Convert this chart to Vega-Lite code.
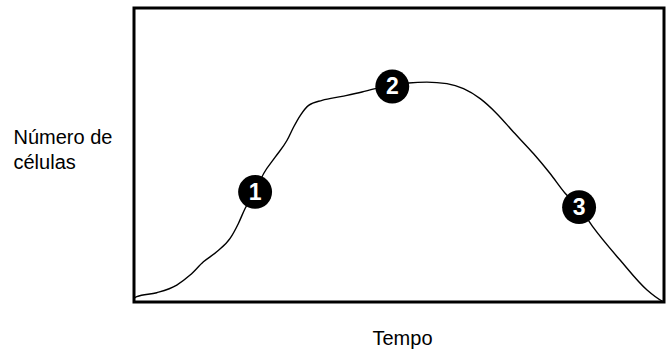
{
  "$schema": "https://vega.github.io/schema/vega-lite/v6.json",
  "width": 530,
  "height": 294,
  "autosize": "none",
  "padding": {"left": 134, "top": 8, "right": 6, "bottom": 50},
  "background": "white",
  "config": {
    "view": {"stroke": "black", "strokeWidth": 3},
    "font": "Liberation Sans"
  },
  "datasets": {
    "curve": [
      {"t": 0, "n": 1.2},
      {"t": 0.53, "n": 1.8},
      {"t": 4.3, "n": 3.16},
      {"t": 8.07, "n": 5.77},
      {"t": 10.59, "n": 9.17},
      {"t": 13.1, "n": 13.68},
      {"t": 15.61, "n": 17.08},
      {"t": 18.13, "n": 21.63},
      {"t": 19.7, "n": 26.72},
      {"t": 20.96, "n": 31.82},
      {"t": 22.85, "n": 37.45},
      {"t": 24.47, "n": 43.7},
      {"t": 26.67, "n": 49.34},
      {"t": 28.88, "n": 55.01},
      {"t": 30.12, "n": 59.52},
      {"t": 31.39, "n": 63.5},
      {"t": 32.95, "n": 66.89},
      {"t": 35.48, "n": 68.59},
      {"t": 39.25, "n": 69.95},
      {"t": 43.02, "n": 71.41},
      {"t": 45.52, "n": 72.56},
      {"t": 48.73, "n": 73.3},
      {"t": 51.8, "n": 74.47},
      {"t": 55.27, "n": 74.8},
      {"t": 59.04, "n": 74.26},
      {"t": 62.17, "n": 72.56},
      {"t": 65.32, "n": 69.17},
      {"t": 68.46, "n": 64.07},
      {"t": 71.59, "n": 57.83},
      {"t": 75.36, "n": 50.49},
      {"t": 78.51, "n": 43.7},
      {"t": 81.34, "n": 37.01},
      {"t": 83.98, "n": 32.26},
      {"t": 86.62, "n": 25.47},
      {"t": 91.71, "n": 14.26},
      {"t": 96.8, "n": 4.07},
      {"t": 99.62, "n": 0.34},
      {"t": 100, "n": 0}
    ],
    "markers": [
      {"t": 22.85, "n": 37.45, "label": "1"},
      {"t": 48.73, "n": 73.3, "label": "2"},
      {"t": 83.98, "n": 32.26, "label": "3"}
    ]
  },
  "encoding": {
    "x": {
      "field": "t",
      "type": "quantitative",
      "scale": {"domain": [0, 100], "nice": false, "zero": false},
      "axis": {
        "title": "Tempo",
        "domain": false,
        "ticks": false,
        "labels": false,
        "grid": false,
        "titleX": 268,
        "titleY": 42,
        "titleAlign": "center",
        "titleBaseline": "alphabetic",
        "titleFontSize": 20,
        "titleFontWeight": "normal",
        "titleColor": "black",
        "titleFont": "Liberation Sans"
      }
    },
    "y": {
      "field": "n",
      "type": "quantitative",
      "scale": {"domain": [0, 100], "nice": false, "zero": false},
      "axis": {
        "title": ["Número de", "células"],
        "domain": false,
        "ticks": false,
        "labels": false,
        "grid": false,
        "titleAngle": 0,
        "titleAlign": "left",
        "titleBaseline": "alphabetic",
        "titleX": -121,
        "titleY": 135,
        "titleLineHeight": 25,
        "titleFontSize": 20,
        "titleFontWeight": "normal",
        "titleColor": "black",
        "titleFont": "Liberation Sans"
      }
    }
  },
  "layer": [
    {
      "data": {"name": "curve"},
      "mark": {"type": "line", "color": "black", "strokeWidth": 1.4, "interpolate": "monotone", "clip": true}
    },
    {
      "data": {"name": "markers"},
      "mark": {"type": "point", "shape": "circle", "filled": true, "color": "black", "opacity": 1, "size": 1150}
    },
    {
      "data": {"name": "markers"},
      "mark": {"type": "text", "color": "white", "fontWeight": "bold", "fontSize": 23, "font": "Liberation Sans", "baseline": "middle", "align": "center", "dy": 1},
      "encoding": {"text": {"field": "label", "type": "nominal"}}
    }
  ]
}
